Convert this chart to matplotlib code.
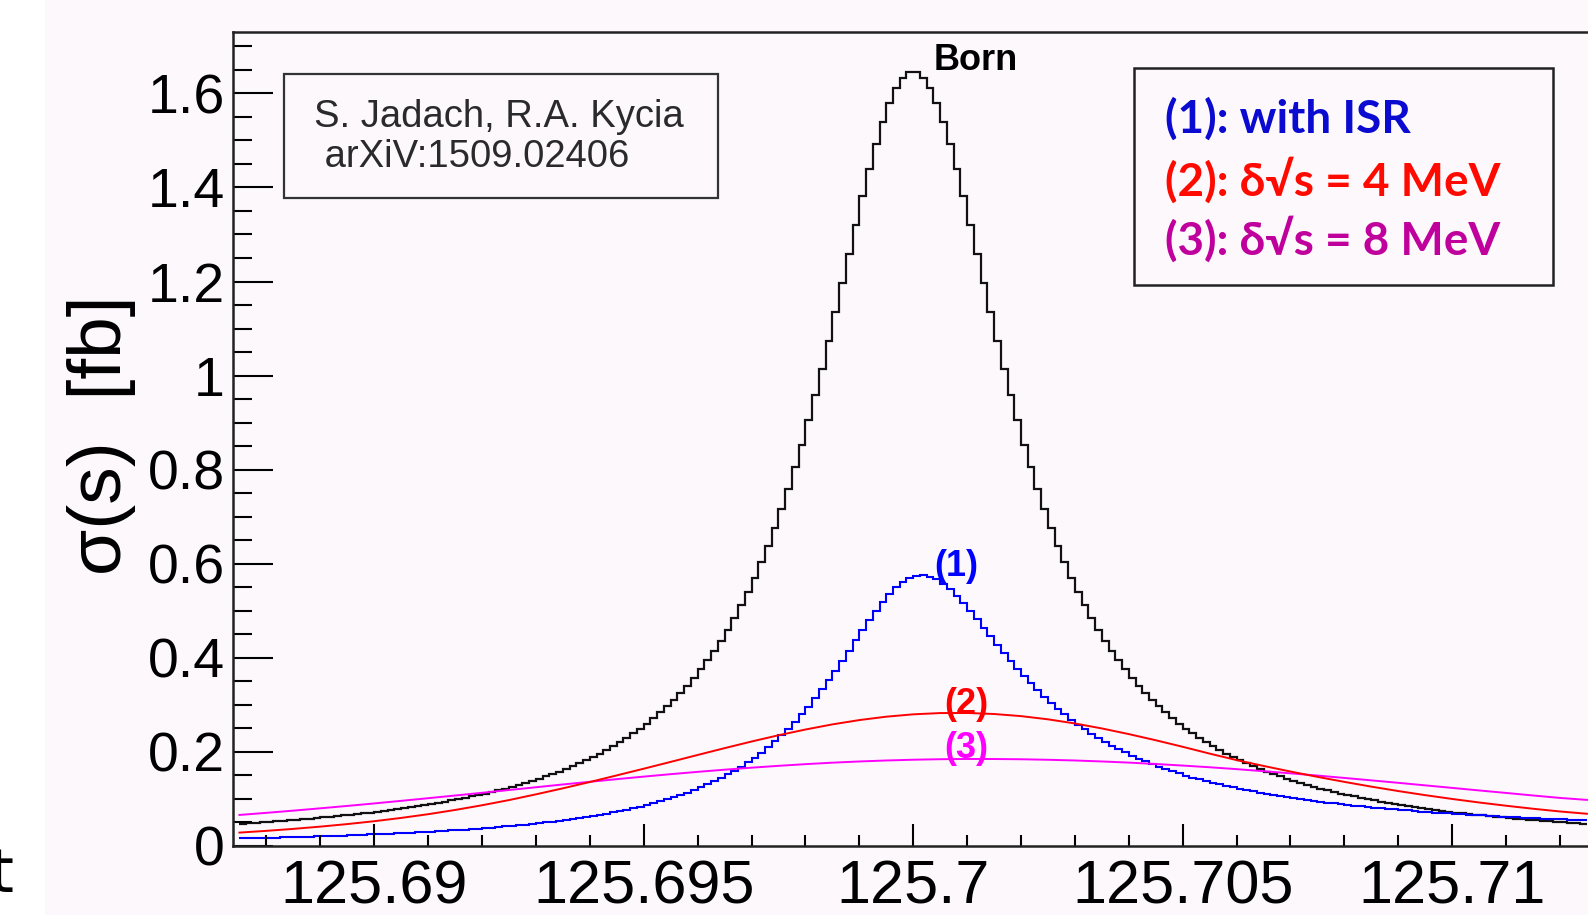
import numpy as np
import matplotlib.pyplot as plt
from matplotlib.patches import Rectangle

plt.rcParams['font.family'] = ['Liberation Sans', 'DejaVu Sans']

# histogram binning, sqrt(s) in GeV
n_bins = 200
e_lo, e_hi = 125.6875, 125.7125

# Born cross section per bin [fb]
born = [
    0.0473, 0.0483, 0.0492, 0.0502, 0.0513, 0.0523, 0.0534, 0.0545, 0.0557, 0.0569,
    0.0581, 0.0594, 0.0607, 0.0620, 0.0635, 0.0649, 0.0664, 0.0680, 0.0696, 0.0712,
    0.0730, 0.0747, 0.0766, 0.0785, 0.0805, 0.0826, 0.0847, 0.0869, 0.0893, 0.0917,
    0.0942, 0.0968, 0.0995, 0.1023, 0.1053, 0.1083, 0.1115, 0.1149, 0.1184, 0.1220,
    0.1259, 0.1299, 0.1340, 0.1384, 0.1430, 0.1478, 0.1529, 0.1582, 0.1638, 0.1697,
    0.1759, 0.1824, 0.1892, 0.1965, 0.2041, 0.2122, 0.2208, 0.2298, 0.2394, 0.2495,
    0.2603, 0.2718, 0.2839, 0.2968, 0.3106, 0.3252, 0.3409, 0.3575, 0.3754, 0.3944,
    0.4147, 0.4365, 0.4598, 0.4847, 0.5114, 0.5400, 0.5707, 0.6036, 0.6387, 0.6764,
    0.7165, 0.7594, 0.8049, 0.8534, 0.9046, 0.9585, 1.0149, 1.0736, 1.1343, 1.1961,
    1.2585, 1.3205, 1.3810, 1.4386, 1.4920, 1.5396, 1.5800, 1.6116, 1.6335, 1.6446,
    1.6446, 1.6335, 1.6116, 1.5800, 1.5396, 1.4920, 1.4386, 1.3810, 1.3205, 1.2585,
    1.1961, 1.1343, 1.0736, 1.0149, 0.9585, 0.9046, 0.8534, 0.8049, 0.7594, 0.7165,
    0.6764, 0.6387, 0.6036, 0.5707, 0.5400, 0.5114, 0.4847, 0.4598, 0.4365, 0.4147,
    0.3944, 0.3754, 0.3575, 0.3409, 0.3252, 0.3106, 0.2968, 0.2839, 0.2718, 0.2603,
    0.2495, 0.2394, 0.2298, 0.2208, 0.2122, 0.2041, 0.1965, 0.1892, 0.1824, 0.1759,
    0.1697, 0.1638, 0.1582, 0.1529, 0.1478, 0.1430, 0.1384, 0.1340, 0.1299, 0.1259,
    0.1220, 0.1184, 0.1149, 0.1115, 0.1083, 0.1053, 0.1023, 0.0995, 0.0968, 0.0942,
    0.0917, 0.0893, 0.0869, 0.0847, 0.0826, 0.0805, 0.0785, 0.0766, 0.0747, 0.0730,
    0.0712, 0.0696, 0.0680, 0.0664, 0.0649, 0.0635, 0.0620, 0.0607, 0.0594, 0.0581,
    0.0569, 0.0557, 0.0545, 0.0534, 0.0523, 0.0513, 0.0502, 0.0492, 0.0483, 0.0473,
]

# (1) with ISR, per bin [fb]
isr = [
    0.0163, 0.0167, 0.0170, 0.0173, 0.0177, 0.0180, 0.0184, 0.0188, 0.0192, 0.0196,
    0.0200, 0.0204, 0.0209, 0.0213, 0.0218, 0.0223, 0.0228, 0.0233, 0.0239, 0.0245,
    0.0250, 0.0256, 0.0263, 0.0269, 0.0276, 0.0283, 0.0290, 0.0298, 0.0305, 0.0313,
    0.0322, 0.0331, 0.0340, 0.0349, 0.0359, 0.0369, 0.0380, 0.0391, 0.0403, 0.0415,
    0.0428, 0.0442, 0.0455, 0.0470, 0.0485, 0.0501, 0.0518, 0.0536, 0.0555, 0.0574,
    0.0595, 0.0616, 0.0639, 0.0663, 0.0688, 0.0715, 0.0743, 0.0773, 0.0804, 0.0838,
    0.0873, 0.0910, 0.0950, 0.0992, 0.1037, 0.1085, 0.1136, 0.1190, 0.1248, 0.1310,
    0.1376, 0.1447, 0.1522, 0.1603, 0.1689, 0.1782, 0.1881, 0.1987, 0.2101, 0.2222,
    0.2353, 0.2491, 0.2640, 0.2798, 0.2965, 0.3142, 0.3329, 0.3524, 0.3728, 0.3938,
    0.4153, 0.4370, 0.4587, 0.4798, 0.5001, 0.5190, 0.5360, 0.5505, 0.5622, 0.5704,
    0.5750, 0.5758, 0.5729, 0.5667, 0.5574, 0.5456, 0.5317, 0.5162, 0.4995, 0.4821,
    0.4642, 0.4462, 0.4283, 0.4106, 0.3934, 0.3769, 0.3609, 0.3456, 0.3310, 0.3171,
    0.3039, 0.2914, 0.2796, 0.2684, 0.2579, 0.2479, 0.2385, 0.2296, 0.2212, 0.2133,
    0.2058, 0.1988, 0.1921, 0.1857, 0.1798, 0.1741, 0.1687, 0.1636, 0.1588, 0.1542,
    0.1498, 0.1456, 0.1417, 0.1379, 0.1343, 0.1309, 0.1276, 0.1245, 0.1215, 0.1187,
    0.1159, 0.1133, 0.1108, 0.1084, 0.1061, 0.1039, 0.1018, 0.0997, 0.0978, 0.0959,
    0.0941, 0.0923, 0.0906, 0.0890, 0.0874, 0.0859, 0.0845, 0.0830, 0.0817, 0.0804,
    0.0791, 0.0779, 0.0767, 0.0755, 0.0744, 0.0733, 0.0723, 0.0712, 0.0703, 0.0693,
    0.0684, 0.0674, 0.0666, 0.0657, 0.0649, 0.0641, 0.0633, 0.0625, 0.0618, 0.0610,
    0.0603, 0.0597, 0.0590, 0.0583, 0.0577, 0.0571, 0.0565, 0.0559, 0.0553, 0.0547,
]

# (2) and (3): beam energy spread 4 and 8 MeV, read every 0.5 MeV
n_smear = 51
spread4 = [
    0.0285, 0.0322, 0.0364, 0.0412, 0.0466, 0.0527, 0.0597, 0.0676, 0.0766, 0.0866,
    0.0976, 0.1098, 0.1226, 0.1360, 0.1501, 0.1643, 0.1788, 0.1935, 0.2080, 0.2221,
    0.2354, 0.2476, 0.2585, 0.2677, 0.2749, 0.2799, 0.2826, 0.2828, 0.2806, 0.2761,
    0.2693, 0.2605, 0.2499, 0.2379, 0.2248, 0.2109, 0.1964, 0.1826, 0.1702, 0.1583,
    0.1470, 0.1363, 0.1262, 0.1168, 0.1081, 0.1000, 0.0925, 0.0856, 0.0792, 0.0734,
    0.0685,
]
spread8 = [
    0.0660, 0.0705, 0.0752, 0.0801, 0.0852, 0.0905, 0.0960, 0.1016, 0.1073, 0.1131,
    0.1190, 0.1249, 0.1308, 0.1365, 0.1421, 0.1475, 0.1527, 0.1576, 0.1622, 0.1665,
    0.1704, 0.1740, 0.1771, 0.1797, 0.1818, 0.1834, 0.1845, 0.1850, 0.1849, 0.1844,
    0.1833, 0.1818, 0.1797, 0.1773, 0.1743, 0.1710, 0.1674, 0.1634, 0.1590, 0.1545,
    0.1497, 0.1447, 0.1395, 0.1343, 0.1289, 0.1235, 0.1181, 0.1128, 0.1074, 0.1022,
    0.0980,
]

xticks = [125.69, 125.695, 125.7, 125.705, 125.71]
xticklabels = ['125.69', '125.695', '125.7', '125.705', '125.71']
yticks = [0, 0.2, 0.4, 0.6, 0.8, 1.0, 1.2, 1.4, 1.6]
yticklabels = ['0', '0.2', '0.4', '0.6', '0.8', '1', '1.2', '1.4', '1.6']

W, H = 1588, 915
bg = '#fcf8fc'


def fpos(x, y):
    # pixel position -> figure fraction
    return x / W, 1 - y / H


fig = plt.figure(figsize=(W / 100, H / 100), dpi=100)
fig.patch.set_facecolor(bg)
fig.patches.append(Rectangle((0, 0), 45 / W, 1, transform=fig.transFigure,
                             facecolor='white', edgecolor='none', zorder=0))

ax = fig.add_axes([233 / W, 1 - 846 / H, (W - 233) / W, (846 - 32) / H])
ax.set_facecolor(bg)

edges = np.linspace(e_lo, e_hi, n_bins + 1)
e_smear = np.linspace(e_lo, e_hi, n_smear)
ax.plot(e_smear, spread8, color='#ff00ff', lw=1.4)
ax.plot(e_smear, spread4, color='#ff0000', lw=1.4)
ax.stairs(born, edges, color='#111111', lw=1.6, baseline=None)
ax.stairs(isr, edges, color='#0000ff', lw=1.5, baseline=None)

ax.set_xlim(125.68738, 125.71252)
ax.set_ylim(0, 1.7304)

for side in ['left', 'top', 'bottom']:
    ax.spines[side].set_linewidth(1.8)
    ax.spines[side].set_color('#222222')
ax.spines['right'].set_visible(False)

ax.set_xticks(xticks)
ax.set_xticklabels(xticklabels)
ax.set_xticks(np.arange(125.688, 125.7125, 0.001), minor=True)
ax.set_yticks(yticks)
ax.set_yticklabels(yticklabels)
ax.set_yticks(np.arange(0, 1.73, 0.05), minor=True)

ax.tick_params(axis='x', which='major', direction='in', length=16, width=1.5,
               labelsize=44, pad=10, top=False)
ax.tick_params(axis='x', which='minor', direction='in', length=8, width=1.5, top=False)
ax.tick_params(axis='y', which='major', direction='in', length=29, width=1.5,
               labelsize=40, pad=6, right=False)
ax.tick_params(axis='y', which='minor', direction='in', length=14, width=1.5, right=False)

fig.text(*fpos(101, 435), 'σ(s)  [fb]', rotation=90, fontsize=54,
         ha='center', va='center')

# author box
fig.patches.append(Rectangle(fpos(284, 198), 434 / W, 124 / H, transform=fig.transFigure,
                             facecolor=bg, edgecolor='#333333', lw=1.6, zorder=5))
fig.text(*fpos(314, 117), 'S. Jadach, R.A. Kycia', fontsize=27.5, color='#2a2a2a',
         va='center', zorder=6)
fig.text(*fpos(314, 157), ' arXiV:1509.02406', fontsize=27.5, color='#2a2a2a',
         va='center', zorder=6)

# legend box
fig.patches.append(Rectangle(fpos(1134, 285), 419 / W, 217 / H, transform=fig.transFigure,
                             facecolor=bg, edgecolor='#222222', lw=1.8, zorder=5))
leg_font = ['Lato', 'DejaVu Sans']
fig.text(*fpos(1165, 119), '(1): with ISR', fontsize=33, color='#0a0ad0',
         fontweight='bold', family=leg_font, va='center', zorder=6)
fig.text(*fpos(1165, 180), '(2): δ√s = 4 MeV', fontsize=33, color='#ff0a00',
         fontweight='bold', family=leg_font, va='center', zorder=6)
fig.text(*fpos(1165, 239), '(3): δ√s = 8 MeV', fontsize=33, color='#c0009c',
         fontweight='bold', family=leg_font, va='center', zorder=6)

# curve labels
fig.text(*fpos(934, 61), 'Born', fontsize=26, fontweight='bold', va='center')
fig.text(*fpos(956, 566), '(1)', fontsize=26, fontweight='bold', color='#0000ff',
         ha='center', va='center')
fig.text(*fpos(966, 705), '(2)', fontsize=26, fontweight='bold', color='#ff0000',
         ha='center', va='center')
fig.text(*fpos(966, 749), '(3)', fontsize=26, fontweight='bold', color='#ff00ff',
         ha='center', va='center')

# cut-off letter at the left border, as in the source image
fig.text(*fpos(13, 876), 't', fontsize=44, family='DejaVu Sans', ha='right', va='center')

fig.savefig('out.png', dpi=100, facecolor=bg)
